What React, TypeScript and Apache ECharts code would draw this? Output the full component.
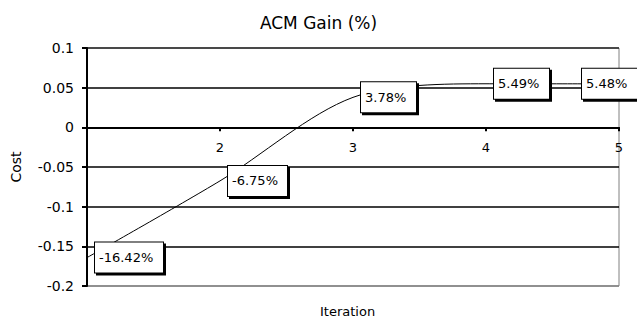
import React, { useEffect, useRef } from "react";
import * as echarts from "echarts";

const iterations = [1, 2, 3, 4, 5];
const costValues = [-0.1642, -0.0675, 0.0378, 0.0549, 0.0548];
const gainLabels = ["-16.42%", "-6.75%", "3.78%", "5.49%", "5.48%"];
const yTicks = { min: -0.2, max: 0.1, interval: 0.05 };
const xTicks = { min: 1, max: 5, interval: 1 };

const FONT = "DejaVu Sans";
const LABEL_SIZE = 13;
const GRID = { left: 87, right: 18, top: 48, bottom: 36 };

function measure(text: string): number {
  const c = document.createElement("canvas").getContext("2d");
  if (!c) return text.length * 8;
  c.font = `${LABEL_SIZE}px "${FONT}"`;
  return Math.ceil(c.measureText(text).width);
}

export default function App() {
  const ref = useRef<HTMLDivElement>(null);
  useEffect(() => {
    if (!ref.current) return;
    const chart = echarts.init(ref.current, undefined, { renderer: "svg" });
    const last = iterations.length - 1;
    const widths = gainLabels.map(measure);
    const data = iterations.map((x, i) => ({
      value: [x, costValues[i]],
      name: gainLabels[i],
      label: { width: widths[i], offset: i === last ? [-45, 0] : [0, 0] },
    }));
    const shadowData = iterations.map((x, i) => ({
      value: [x, costValues[i]],
      name: " ",
      label: { width: widths[i], offset: i === last ? [-43, 2] : [2, 2] },
    }));
    const plotH = 322 - GRID.top - GRID.bottom;
    const zeroOffset = -plotH * ((0 - yTicks.min) / (yTicks.max - yTicks.min));
    const labelBase = {
      show: true,
      position: "right",
      distance: 8,
      formatter: (p: any) => p.name,
      fontFamily: FONT,
      fontSize: LABEL_SIZE,
      lineHeight: 14,
      color: "#000",
      padding: [8, 9, 8, 4],
    };
    chart.setOption({
      animation: false,
      backgroundColor: "#ffffff",
      title: {
        text: "ACM Gain (%)",
        left: "center",
        top: 9,
        textStyle: { fontFamily: FONT, fontSize: 17, fontWeight: "normal", color: "#000" },
      },
      grid: {
        ...GRID,
        show: true,
        borderColor: "#808080",
        borderWidth: 1,
        backgroundColor: "#fff",
      },
      xAxis: {
        type: "value",
        min: xTicks.min,
        max: xTicks.max,
        interval: xTicks.interval,
        offset: zeroOffset,
        axisLine: { show: true, onZero: false, lineStyle: { color: "#000", width: 2 } },
        axisTick: { show: true, inside: false, length: 4, lineStyle: { color: "#000", width: 2 } },
        axisLabel: {
          showMinLabel: false,
          margin: 14,
          fontFamily: FONT,
          fontSize: 13,
          color: "#000",
        },
        splitLine: { show: false },
      },
      yAxis: {
        type: "value",
        min: yTicks.min,
        max: yTicks.max,
        interval: yTicks.interval,
        name: "Cost",
        nameLocation: "middle",
        nameGap: 64,
        nameTextStyle: { fontFamily: FONT, fontSize: 14, color: "#000" },
        axisLine: { show: true, lineStyle: { color: "#000", width: 2 } },
        axisTick: { show: true, length: 5, lineStyle: { color: "#000", width: 2 } },
        axisLabel: {
          margin: 13,
          fontFamily: FONT,
          fontSize: 14,
          color: "#000",
        },
        splitLine: {
          show: true,
          lineStyle: {
            color: ["#808080", "#000", "#000", "#000", "#000", "#000", "#222"],
            width: 1.6,
          },
        },
      },
      graphic: [
        {
          type: "text",
          left: 353 - 33,
          top: 305,
          style: { text: "Iteration", fontFamily: FONT, fontSize: 13, fill: "#000" },
        },
      ],
      series: [
        {
          type: "line",
          name: "shadow",
          data: shadowData,
          z: 3,
          smooth: 0.3,
          symbol: "circle",
          symbolSize: 0,
          silent: true,
          itemStyle: { color: "#000" },
          lineStyle: { opacity: 0, width: 0 },
          label: {
            ...labelBase,
            backgroundColor: "#000",
            borderColor: "#000",
            borderWidth: 1,
          },
        },
        {
          type: "line",
          name: "cost",
          data,
          z: 4,
          smooth: 0.3,
          symbol: "circle",
          symbolSize: 0,
          itemStyle: { color: "#000" },
          lineStyle: { color: "#000", width: 1 },
          label: {
            ...labelBase,
            backgroundColor: "#fff",
            borderColor: "#000",
            borderWidth: 1,
          },
        },
      ],
    });
    return () => chart.dispose();
  }, []);
  return <div ref={ref} style={{ width: 637, height: 322, position: "absolute", left: 0, top: 0 }} />;
}
